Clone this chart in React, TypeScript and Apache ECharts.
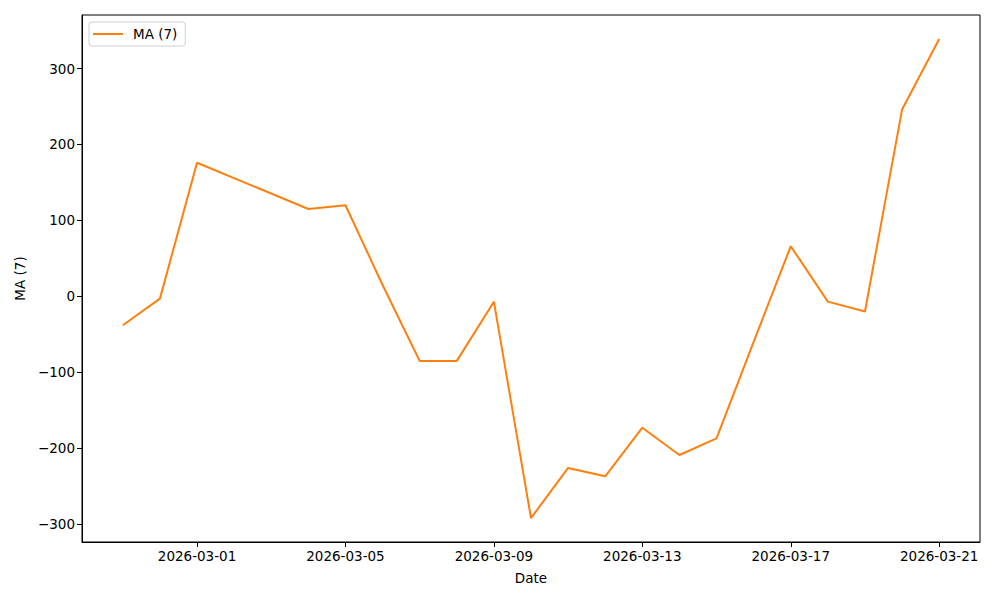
import React, { useEffect, useRef } from "react";
import * as echarts from "echarts";

const dates = [
  "2026-02-27", "2026-02-28", "2026-03-01", "2026-03-04", "2026-03-05", "2026-03-06",
  "2026-03-07", "2026-03-08", "2026-03-09", "2026-03-10", "2026-03-11", "2026-03-12",
  "2026-03-13", "2026-03-14", "2026-03-15", "2026-03-16", "2026-03-17", "2026-03-18",
  "2026-03-19", "2026-03-20", "2026-03-21",
];
const maValues = [
  -38, -3, 176, 115, 120, 15, -85, -85, -7, -292, -226, -237,
  -173, -209, -187, -60, 66, -7, -20, 246, 339,
];
const xTickDates = ["2026-03-01", "2026-03-05", "2026-03-09", "2026-03-13", "2026-03-17", "2026-03-21"];
const yTicks = [-300, -200, -100, 0, 100, 200, 300];

const DAY = 86400000;
const toDay = (s: string) => {
  const [y, m, d] = s.split("-").map(Number);
  return Date.UTC(y, m - 1, d) / DAY;
};
const fromDay = (v: number) => {
  const dt = new Date(Math.round(v) * DAY);
  const p = (n: number) => String(n).padStart(2, "0");
  return `${dt.getUTCFullYear()}-${p(dt.getUTCMonth() + 1)}-${p(dt.getUTCDate())}`;
};

export default function App() {
  const ref = useRef<HTMLDivElement>(null);
  useEffect(() => {
    document.body.style.margin = "0";
    const chart = echarts.init(ref.current!, null, { renderer: "svg" });
    const xs = dates.map(toDay);
    const xMin = Math.min(...xs), xMax = Math.max(...xs);
    const xPad = (xMax - xMin) * 0.05;
    const yMin = Math.min(...maValues), yMax = Math.max(...maValues);
    const yPad = (yMax - yMin) * 0.05;
    const font = "DejaVu Sans";
    chart.setOption({
      animation: false,
      textStyle: { fontFamily: font },
      grid: {
        left: 82, right: 20, top: 15, bottom: 58,
        show: true, borderColor: "#000", borderWidth: 1,
      },
      legend: {
        show: true,
        left: 89, top: 22,
        orient: "vertical",
        data: [{ name: "MA (7)", icon: "rect" }],
        itemWidth: 30, itemHeight: 2,
        itemGap: 10,
        padding: [5, 8, 5, 4],
        borderColor: "#d0d0d0", borderWidth: 1, borderRadius: 3,
        textStyle: { fontFamily: font, fontSize: 13.5, color: "#000", padding: [0, 0, 0, 5] },
      },
      xAxis: {
        type: "value",
        min: xMin - xPad, max: xMax + xPad,
        name: "Date", nameLocation: "middle", nameGap: 29,
        nameTextStyle: { fontFamily: font, fontSize: 13.5, color: "#000" },
        axisLine: { show: true, onZero: false, lineStyle: { color: "#000", width: 1 } },
        axisTick: { show: true, length: 5, lineStyle: { color: "#000" }, customValues: xTickDates.map(toDay) },
        axisLabel: {
          customValues: xTickDates.map(toDay),
          formatter: (v: number) => fromDay(v),
          fontFamily: font, fontSize: 13.5, color: "#000", margin: 7,
        },
        splitLine: { show: false },
      },
      yAxis: {
        type: "value",
        min: yMin - yPad, max: yMax + yPad,
        name: "MA (7)", nameLocation: "middle", nameGap: 53, nameRotate: 90,
        nameTextStyle: { fontFamily: font, fontSize: 13.5, color: "#000" },
        axisLine: { show: true, onZero: false, lineStyle: { color: "#000", width: 1 } },
        axisTick: { show: true, length: 5, lineStyle: { color: "#000" }, customValues: yTicks },
        axisLabel: {
          customValues: yTicks,
          formatter: (v: number) => (v < 0 ? "\u2212" + Math.abs(v) : String(v)),
          fontFamily: font, fontSize: 13.5, color: "#000", margin: 7,
        },
        splitLine: { show: false },
      },
      series: [
        {
          name: "MA (7)",
          type: "line",
          data: xs.map((x, i) => [x, maValues[i]]),
          showSymbol: false,
          symbol: "none",
          lineStyle: { color: "#ff7f0e", width: 2 },
          itemStyle: { color: "#ff7f0e" },
        },
      ],
    });
    return () => chart.dispose();
  }, []);
  return <div ref={ref} style={{ width: 1000, height: 600 }} />;
}
